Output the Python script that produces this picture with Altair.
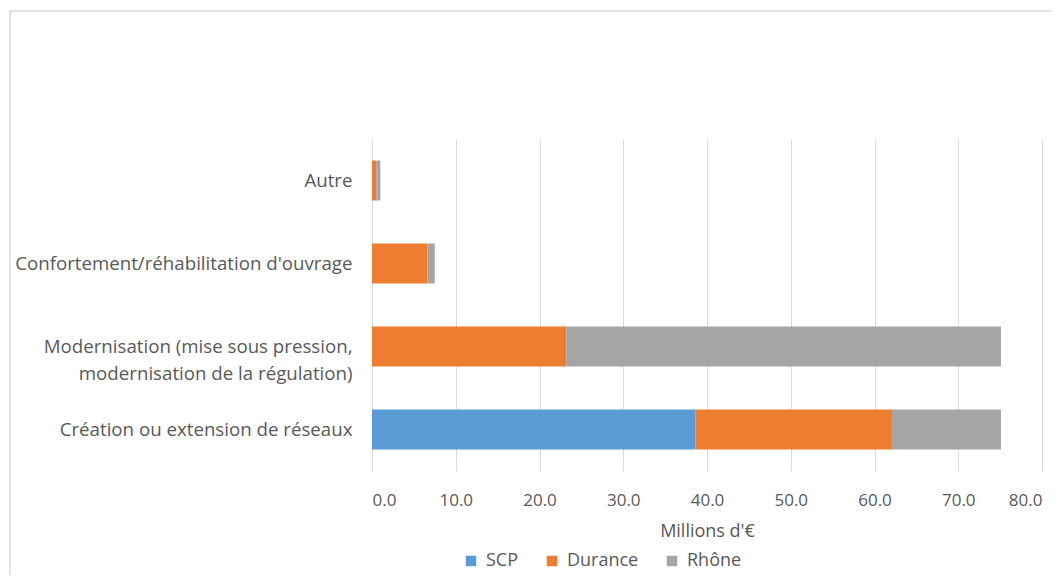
import altair as alt
import pandas as pd

categories = [
    "Autre",
    "Confortement/réhabilitation d'ouvrage",
    "Modernisation (mise sous pression,|modernisation de la régulation)",
    "Création ou extension de réseaux",
]
series = ["SCP", "Durance", "Rhône"]
colors = ["#5B9BD5", "#ED7D31", "#A5A5A5"]
scp = [0.0, 0.0, 0.0, 38.6]
durance = [0.5, 6.6, 23.2, 23.5]
rhone = [0.5, 0.9, 51.9, 13.0]
x_ticks = [0, 10, 20, 30, 40, 50, 60, 70, 80]

rows = []
for i, c in enumerate(categories):
    for j, (s, vals) in enumerate(zip(series, [scp, durance, rhone])):
        rows.append({"cat": c, "serie": s, "val": vals[i], "ord": j})
df = pd.DataFrame(rows)

font = "Open Sans"
grey = "#595959"

bars = alt.Chart(df).mark_bar(size=40).encode(
    y=alt.Y("cat:N", sort=categories, title=None,
            scale=alt.Scale(paddingInner=0.5, paddingOuter=0.25),
            axis=alt.Axis(labelExpr="split(datum.label, '|')", labelFont=font,
                          labelFontSize=18.7, labelColor=grey, labelPadding=20,
                          labelLineHeight=27, ticks=False, domain=False,
                          labelLimit=400)),
    x=alt.X("val:Q", stack="zero", title="Millions d'€",
            scale=alt.Scale(domain=[0, 80], nice=False),
            axis=alt.Axis(values=x_ticks, format=".1f", labelFont=font,
                          labelFontSize=17, labelColor=grey, labelPadding=21,
                          ticks=False, domain=False, gridColor="#D9D9D9",
                          titleFont=font, titleFontSize=18, titleColor=grey,
                          titleFontWeight="normal", titlePadding=14)),
    color=alt.Color("serie:N", sort=series,
                    scale=alt.Scale(domain=series, range=colors),
                    legend=alt.Legend(title=None, orient="none", direction="horizontal",
                                      legendX=90, legendY=413, symbolType="square",
                                      symbolSize=110, labelFont=font, labelFontSize=18,
                                      labelColor=grey, columnPadding=24,
                                      symbolStrokeWidth=0, labelOffset=6)),
    order=alt.Order("ord:Q"),
)

frame = alt.Chart(pd.DataFrame({"a": [0]})).mark_rect(
    fill=None, stroke="#D9D9D9", strokeWidth=1.5, clip=False
).encode(x=alt.value(-362), x2=alt.value(760), y=alt.value(-128), y2=alt.value(560))

chart = alt.layer(frame, bars).properties(
    width=670, height=332,
    autosize=alt.AutoSizeParams(type="none"),
    padding={"left": 364, "top": 131, "right": 10, "bottom": 104},
).configure_view(stroke=None)

chart.save("out.html", embed_options={"renderer": "svg", "actions": False})
